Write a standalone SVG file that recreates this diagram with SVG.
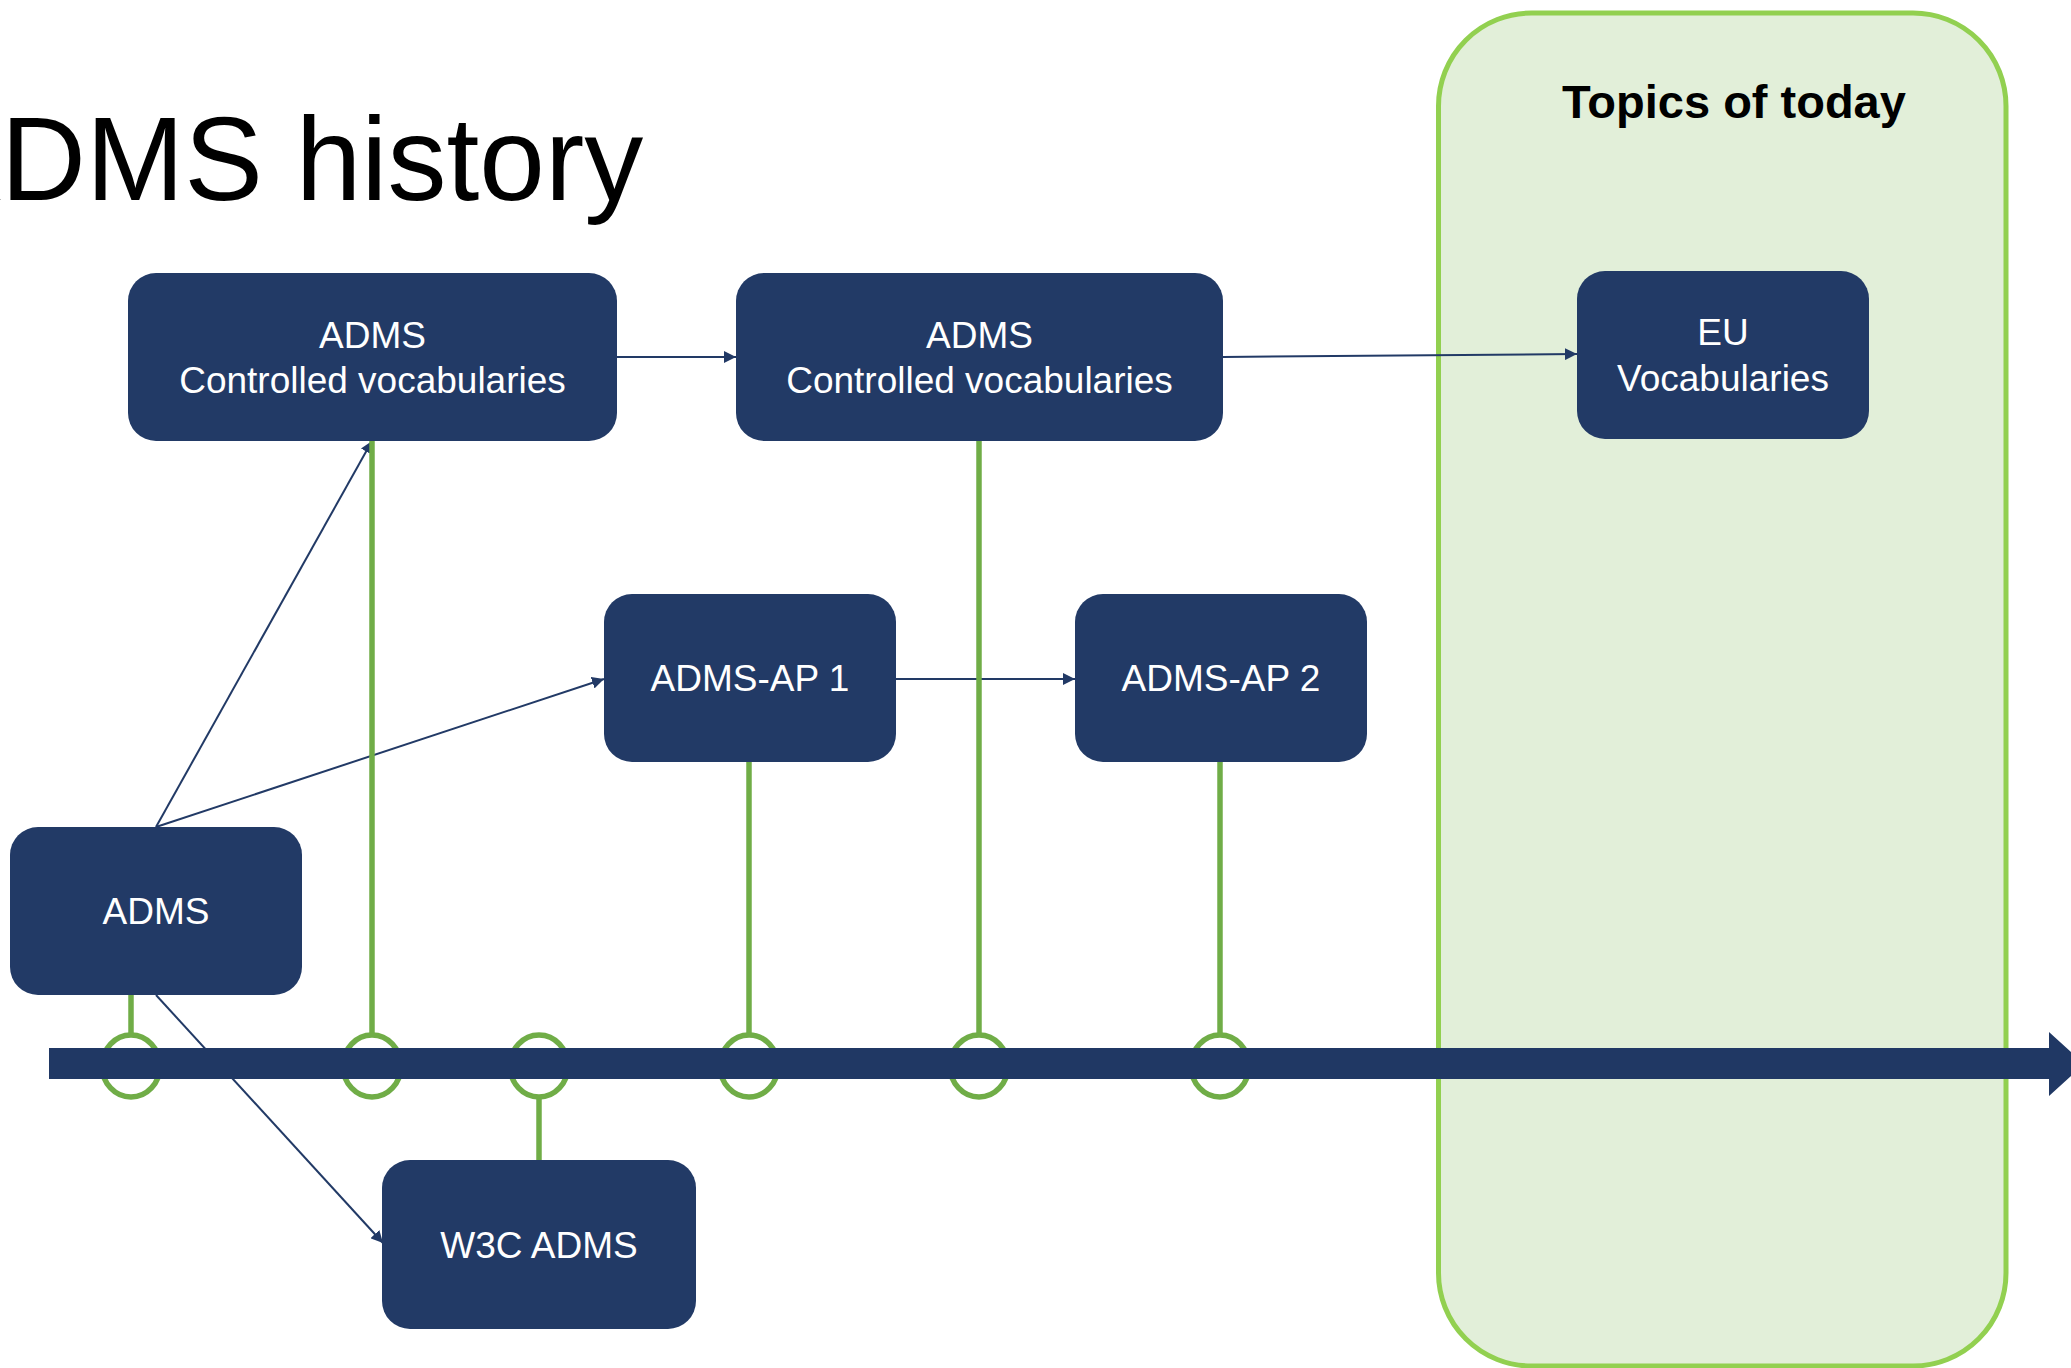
<svg xmlns="http://www.w3.org/2000/svg" width="2071" height="1368" viewBox="0 0 2071 1368">
<style>
.node rect{fill:#223a66}
.node text{fill:#ffffff;font-family:"Liberation Sans",Arial,sans-serif;font-size:37px;text-anchor:middle}
.conn{stroke:#223a66;stroke-width:2;fill:none;marker-end:url(#ah)}
.tick{stroke:#70ad47;stroke-width:5.5;fill:none}
</style>
<defs>
<marker id="ah" viewBox="0 0 10 10" refX="10" refY="5" markerWidth="6" markerHeight="6" orient="auto" markerUnits="strokeWidth">
<path d="M0,0 L10,5 L0,10 z" fill="#223a66"/>
</marker>
</defs>
<rect width="2071" height="1368" fill="#ffffff"/>
<g id="topics">
<rect x="1438.5" y="13" width="567.5" height="1353" rx="93" ry="93" fill="#e2efd9" stroke="#92d050" stroke-width="5"/>
<text x="1734" y="118" font-family="Liberation Sans,Arial,sans-serif" font-size="47" font-weight="bold" text-anchor="middle" fill="#000000">Topics of today</text>
</g>
<text id="title" x="-78" y="200" font-family="Liberation Sans,Arial,sans-serif" font-size="118" fill="#000000">ADMS history</text>
<g id="connectors">
<line class="conn" x1="617" y1="357" x2="736" y2="357"/>
<line class="conn" x1="1223" y1="357" x2="1577" y2="354"/>
<line class="conn" x1="156" y1="827" x2="372" y2="441"/>
<line class="conn" x1="156" y1="827" x2="604" y2="679"/>
<line class="conn" x1="896" y1="679" x2="1075" y2="679"/>
<line class="conn" x1="156" y1="995" x2="383" y2="1243"/>
</g>
<g id="timeline">
<line class="tick" x1="131" y1="995" x2="131" y2="1035"/>
<line class="tick" x1="372" y1="441" x2="372" y2="1035"/>
<line class="tick" x1="539" y1="1097" x2="539" y2="1160"/>
<line class="tick" x1="749" y1="762" x2="749" y2="1035"/>
<line class="tick" x1="979" y1="441" x2="979" y2="1035"/>
<line class="tick" x1="1220" y1="762" x2="1220" y2="1035"/>
<ellipse class="tick" cx="131" cy="1066" rx="29" ry="31"/>
<ellipse class="tick" cx="372" cy="1066" rx="29" ry="31"/>
<ellipse class="tick" cx="539" cy="1066" rx="29" ry="31"/>
<ellipse class="tick" cx="749" cy="1066" rx="29" ry="31"/>
<ellipse class="tick" cx="979" cy="1066" rx="29" ry="31"/>
<ellipse class="tick" cx="1220" cy="1066" rx="29" ry="31"/>
<path d="M49,1048 L2049,1048 L2049,1032 L2084,1064 L2049,1096 L2049,1079 L49,1079 z" fill="#203864"/>
</g>
<g id="n-cv1" class="node">
<rect x="128" y="273" width="489" height="168" rx="28"/>
<text x="372.5" y="348">ADMS</text>
<text x="372.5" y="393">Controlled vocabularies</text>
</g>
<g id="n-cv2" class="node">
<rect x="736" y="273" width="487" height="168" rx="28"/>
<text x="979.5" y="348">ADMS</text>
<text x="979.5" y="393">Controlled vocabularies</text>
</g>
<g id="n-eu" class="node">
<rect x="1577" y="271" width="292" height="168" rx="28"/>
<text x="1723" y="345">EU</text>
<text x="1723" y="391">Vocabularies</text>
</g>
<g id="n-ap1" class="node">
<rect x="604" y="594" width="292" height="168" rx="28"/>
<text x="750" y="691">ADMS-AP 1</text>
</g>
<g id="n-ap2" class="node">
<rect x="1075" y="594" width="292" height="168" rx="28"/>
<text x="1221" y="691">ADMS-AP 2</text>
</g>
<g id="n-adms" class="node">
<rect x="10" y="827" width="292" height="168" rx="28"/>
<text x="156" y="924">ADMS</text>
</g>
<g id="n-w3c" class="node">
<rect x="382" y="1160" width="314" height="169" rx="28"/>
<text x="539" y="1258">W3C ADMS</text>
</g>
</svg>
